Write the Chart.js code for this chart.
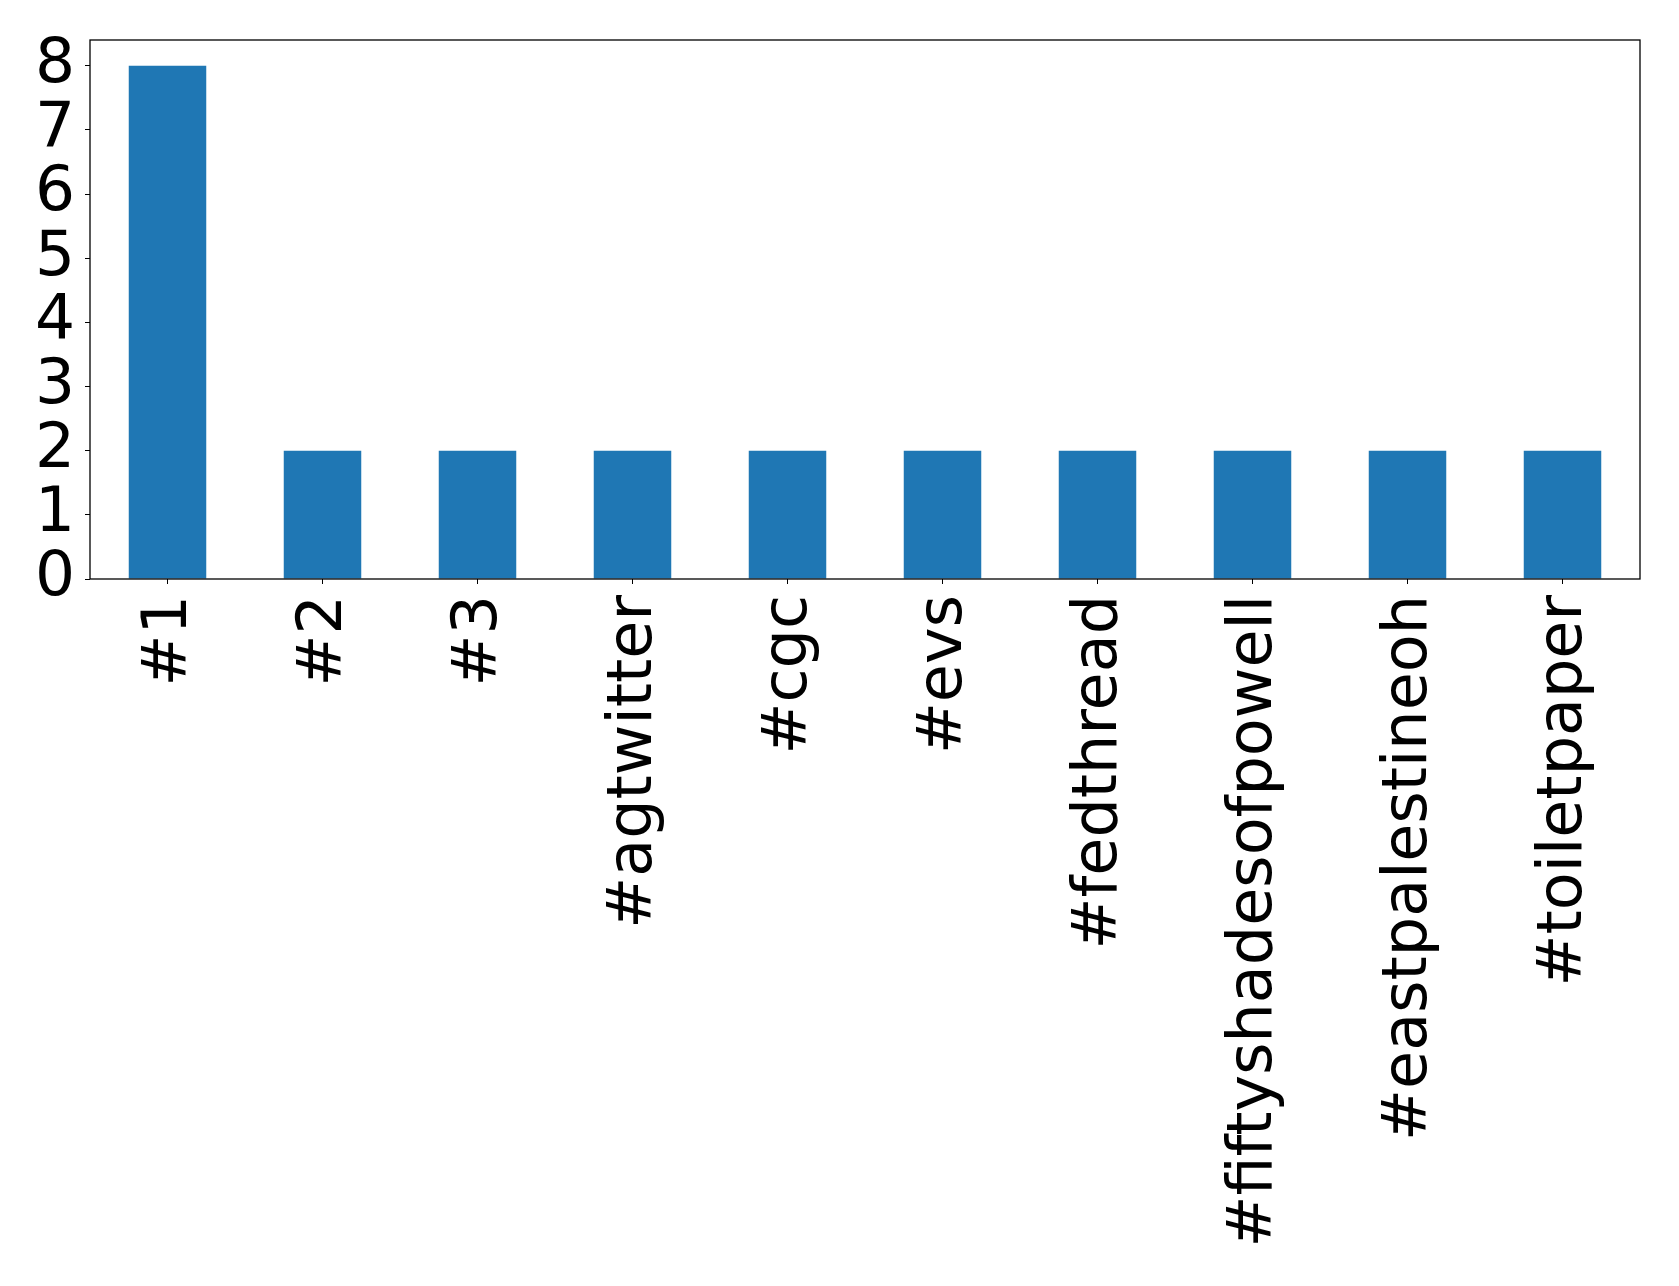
<!DOCTYPE html>
<html>
<head>
<meta charset="utf-8">
<script src="https://cdn.jsdelivr.net/npm/chart.js@4/dist/chart.umd.min.js"></script>
<style>
html,body{margin:0;padding:0;background:#fff;}
#wrap{width:1679px;height:1286px;position:relative;}
</style>
</head>
<body>
<div id="wrap"><canvas id="c" width="1679" height="1286"></canvas></div>
<script>
const categories = ["#1","#2","#3","#agtwitter","#cgc","#evs","#fedthread","#fiftyshadesofpowell","#eastpalestineoh","#toiletpaper"];
const counts = [8,2,2,2,2,2,2,2,2,2];
const yTicks = [0,1,2,3,4,5,6,7,8];

const FONT = "'DejaVu Sans', sans-serif";
const FS_X = 62;
const FS_Y = 63;

const frame = {
  id: 'frame',
  afterDraw(chart) {
    const a = chart.chartArea, ctx = chart.ctx;
    ctx.save();
    ctx.strokeStyle = '#000';
    ctx.lineWidth = 1.3;
    ctx.strokeRect(a.left, a.top, a.right - a.left, a.bottom - a.top);
    ctx.restore();
  }
};

new Chart(document.getElementById('c'), {
  type: 'bar',
  data: {
    labels: categories,
    datasets: [{
      data: counts,
      backgroundColor: '#1f77b4',
      borderWidth: 0,
      categoryPercentage: 1.0,
      barPercentage: 0.5
    }]
  },
  options: {
    responsive: false,
    animation: false,
    devicePixelRatio: 1,
    layout: { padding: { top: 40, right: 39, left: 0, bottom: 0 } },
    plugins: { legend: { display: false }, tooltip: { enabled: false } },
    scales: {
      x: {
        afterFit(s) { s.height = 1286 - 579; s.paddingLeft = 0; s.paddingRight = 0; },
        grid: { drawOnChartArea: false, offset: false, tickLength: 5, color: '#000', tickColor: '#000' },
        border: { display: false },
        ticks: {
          color: '#000', font: { family: FONT, size: FS_X },
          minRotation: 90, maxRotation: 90, autoSkip: false, padding: 11, labelOffset: 2
        }
      },
      y: {
        min: 0, max: 8.4,
        afterFit(s) { s.width = 90; s.paddingTop = 0; s.paddingBottom = 0; },
        afterBuildTicks(s) { s.ticks = yTicks.map(v => ({ value: v })); },
        grid: { drawOnChartArea: false, tickLength: 5, color: '#000', tickColor: '#000' },
        border: { display: false },
        ticks: {
          color: '#000', font: { family: FONT, size: FS_Y }, padding: 10, autoSkip: false,
          callback: v => String(v)
        }
      }
    }
  },
  plugins: [frame]
});
</script>
</body>
</html>
